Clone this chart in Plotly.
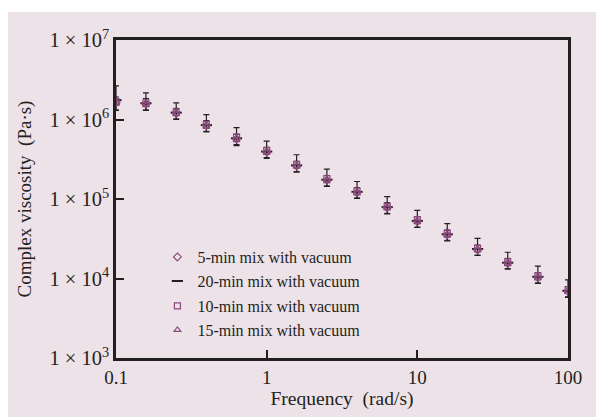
import plotly.graph_objects as go

freq = [0.1, 0.158, 0.251, 0.398, 0.631, 1.0, 1.58, 2.51, 3.98, 6.31, 10.0, 15.8, 25.1, 39.8, 63.1, 100.0]
visc_5min = [1.62e6, 1.58e6, 1.20e6, 8.4e5, 5.7e5, 3.9e5, 2.6e5, 1.72e5, 1.21e5, 7.8e4, 5.2e4, 3.55e4, 2.3e4, 1.56e4, 1.03e4, 6.9e3]
visc_20min = [1.75e6, 1.60e6, 1.22e6, 8.5e5, 5.8e5, 3.95e5, 2.65e5, 1.75e5, 1.23e5, 7.9e4, 5.3e4, 3.6e4, 2.35e4, 1.58e4, 1.05e4, 7.0e3]
visc_10min = [1.68e6, 1.62e6, 1.24e6, 8.7e5, 6.0e5, 4.05e5, 2.7e5, 1.8e5, 1.26e5, 8.1e4, 5.5e4, 3.7e4, 2.4e4, 1.62e4, 1.08e4, 7.2e3]
visc_15min = [1.58e6, 1.52e6, 1.17e6, 8.1e5, 5.5e5, 3.8e5, 2.55e5, 1.68e5, 1.18e5, 7.6e4, 5.1e4, 3.45e4, 2.25e4, 1.52e4, 1.0e4, 6.8e3]
err_up_20min = [9.0e5, 5.6e5, 4.0e5, 3.0e5, 2.1e5, 1.4e5, 9.5e4, 6.2e4, 4.3e4, 2.8e4, 1.9e4, 1.3e4, 8.5e3, 5.6e3, 3.8e3, 2.6e3]
err_dn_20min = [4.5e5, 3.0e5, 2.2e5, 1.5e5, 1.1e5, 7.0e4, 4.7e4, 3.1e4, 2.1e4, 1.4e4, 9.0e3, 6.2e3, 4.0e3, 2.7e3, 1.8e3, 1.2e3]
err_up_5min = [3.0e5, 2.6e5, 1.8e5, 1.3e5, 8.5e4, 5.8e4, 3.9e4, 2.6e4, 1.8e4, 1.2e4, 7.8e3, 5.3e3, 3.4e3, 2.3e3, 1.5e3, 1.0e3]

series_names = ["5-min mix with vacuum", "20-min mix with vacuum", "10-min mix with vacuum", "15-min mix with vacuum"]
ytick_vals = [1e3, 1e4, 1e5, 1e6, 1e7]
ytick_text = ["1 × 10<sup>3</sup>", "1 × 10<sup>4</sup>", "1 × 10<sup>5</sup>", "1 × 10<sup>6</sup>", "1 × 10<sup>7</sup>"]
xtick_vals = [0.1, 1, 10, 100]
xtick_text = ["0.1", "1", "10", "100"]

PURPLE = "#8b4a7c"
INK = "#231f20"
BG = "#ede2e8"
FONT = "Liberation Serif"

# figure sits at (8, 8) in the page because of the default body margin
W, H = 596, 409
L, R, T, B = 108, 36, 32, 59
PW, PH = W - L - R, H - T - B

fig = go.Figure()
fig.add_trace(go.Scatter(x=freq, y=visc_20min, mode="markers", name=series_names[1], legend="legend2",
                         marker=dict(symbol="line-ew", size=8, color=INK, line=dict(width=2, color=INK)),
                         error_y=dict(type="data", array=err_up_20min, arrayminus=err_dn_20min,
                                      color=INK, thickness=1.2, width=3)))
fig.add_trace(go.Scatter(x=freq, y=visc_5min, mode="markers", name=series_names[0], legend="legend",
                         marker=dict(symbol="diamond-open", size=6, color=PURPLE, line=dict(width=1.2)),
                         error_y=dict(type="data", array=err_up_5min, color=INK, thickness=1, width=3)))
fig.add_trace(go.Scatter(x=freq, y=visc_10min, mode="markers", name=series_names[2], legend="legend3",
                         marker=dict(symbol="square-open", size=6, color=PURPLE, line=dict(width=1.2))))
fig.add_trace(go.Scatter(x=freq, y=visc_15min, mode="markers", name=series_names[3], legend="legend4",
                         marker=dict(symbol="triangle-up-open", size=6, color=PURPLE, line=dict(width=1.2))))

leg_common = dict(x=0.0916, xanchor="left", yanchor="middle", bgcolor="rgba(0,0,0,0)",
                  font=dict(family=FONT, size=16, color=INK), borderwidth=0)
fig.update_layout(
    width=W, height=H,
    margin=dict(l=L, r=R, t=T, b=B),
    paper_bgcolor="white", plot_bgcolor="rgba(0,0,0,0)",
    font=dict(family=FONT, size=16, color=INK),
    showlegend=True,
    legend=dict(y=0.3176, **leg_common),
    legend2=dict(y=0.2421, **leg_common),
    legend3=dict(y=0.1635, **leg_common),
    legend4=dict(y=0.0881, **leg_common),
    xaxis=dict(type="log", range=[-1, 2], tickvals=xtick_vals, ticktext=xtick_text,
               ticks="inside", ticklen=8, tickwidth=2, tickcolor=INK,
               showline=True, linecolor=INK, linewidth=2.5, mirror=True, showgrid=False, zeroline=False,
               title=dict(text="Frequency  (rad/s)", standoff=4, font=dict(family=FONT, size=19.5, color=INK)),
               automargin=False,
               tickfont=dict(family=FONT, size=19, color=INK)),
    yaxis=dict(type="log", range=[3, 7], tickvals=ytick_vals, ticktext=ytick_text,
               ticks="inside", ticklen=8, tickwidth=2, tickcolor=INK,
               showline=True, linecolor=INK, linewidth=2.5, mirror=True, showgrid=False, zeroline=False,
               title=dict(text="Complex viscosity  (Pa·s)", standoff=13, font=dict(family=FONT, size=19, color=INK)),
               automargin=False,
               tickfont=dict(family=FONT, size=20.5, color=INK)),
    shapes=[dict(type="rect", xref="paper", yref="paper", x0=-L / PW, x1=(W - L) / PW,
                 y0=-B / PH, y1=(PH + T - 4) / PH,
                 fillcolor=BG, line=dict(width=0), layer="below")],
)
fig.write_html("out.html")
